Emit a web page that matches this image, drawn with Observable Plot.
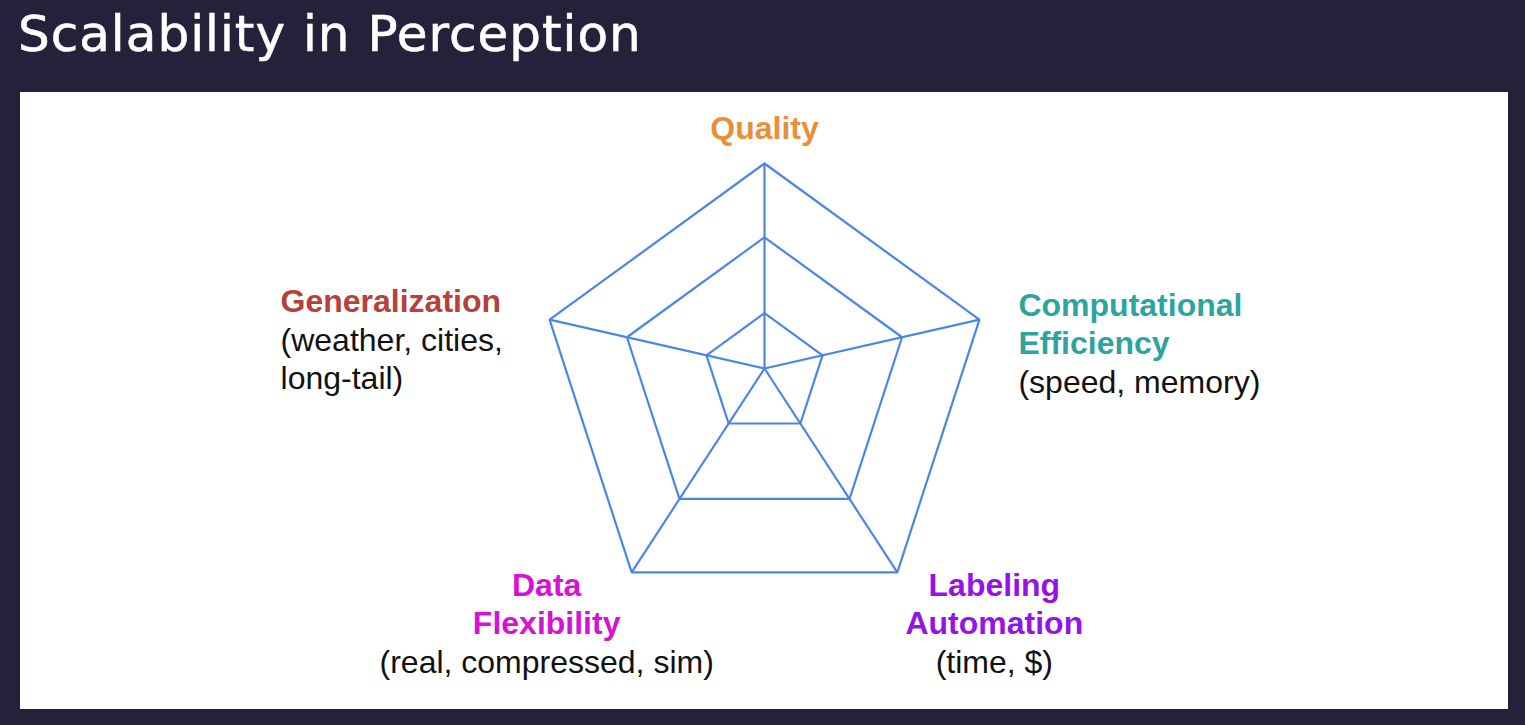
<!DOCTYPE html>
<html><head><meta charset="utf-8">
<script src="https://cdn.jsdelivr.net/npm/d3@7"></script>
<script src="https://cdn.jsdelivr.net/npm/@observablehq/plot@0.6"></script>
<style>
html,body{margin:0;padding:0;background:#24223b;width:1525px;height:725px;overflow:hidden}
#title{position:absolute;left:18px;top:4px;font-family:"DejaVu Sans",sans-serif;font-size:50px;line-height:60px;letter-spacing:1px;color:#fff;-webkit-text-stroke:0.6px #fff;white-space:nowrap}
#panel{position:absolute;left:20px;top:92px;width:1488px;height:617px;background:#fff}
#panel svg{display:block}
</style></head><body>
<div id="title">Scalability in Perception</div>
<div id="panel"></div>
<script>
// Axes of the radar (clockwise from top)
const axes = ["Quality", "Computational Efficiency", "Labeling Automation", "Data Flexibility", "Generalization"];
const headings = ["Quality", "Computational\nEfficiency", "Labeling\nAutomation", "Data\nFlexibility", "Generalization"];
const subtitles = ["", "(speed, memory)", "(time, $)", "(real, compressed, sim)", "(weather, cities,\nlong-tail)"];
const headingColors = ["#e69138", "#2ea49e", "#9414e6", "#d414d4", "#b5413c"];
// Ring levels as fractions of the outer pentagon (measured from the hub)
const levels = [0.27, 0.64, 1.0];
// Hub sits slightly above the outer pentagon's centre (in outer-radius units)
const hubOffset = 0.093;

// ---- layout (pixels) ----
const W = 1488, H = 617, PX = 226;       // pixels per unit radius
const CX = 744, CY = 297;                // outer pentagon centre inside the panel
const FS = 32;
const lineGap = 38.5;
const labelLayout = [
  {anchor: "middle", dx: 0, dy: -52},
  {anchor: "start", dx: 39, dy: -31},
  {anchor: "middle", dx: 97, dy: -4},
  {anchor: "middle", dx: -85, dy: -4},
  {anchor: "start", dx: -269, dy: -35}
];

const n = axes.length;
const hub = [0, hubOffset];
const outer = axes.map((a, k) => {
  const t = Math.PI / 2 - k * 2 * Math.PI / n;
  return [Math.cos(t), Math.sin(t)];
});
const ringPts = [];
levels.forEach((lv, li) => {
  for (let k = 0; k <= n; k++) {
    const o = outer[k % n];
    ringPts.push({ring: li, x: hub[0] + lv * (o[0] - hub[0]), y: hub[1] + lv * (o[1] - hub[1])});
  }
});
const spokes = axes.map((a, k) => ({x1: hub[0], y1: hub[1], x2: outer[k][0], y2: outer[k][1]}));

const labels = axes.map((a, k) => ({
  axis: a, heading: headings[k], sub: subtitles[k], color: headingColors[k],
  x: outer[k][0], y: outer[k][1], nh: headings[k].split("\n").length, ...labelLayout[k]
}));

const font = "'Liberation Sans', Arial, sans-serif";
const marks = [
  Plot.line(ringPts, {x: "x", y: "y", z: "ring", stroke: "#4a86e8", strokeWidth: 2.2, strokeLinejoin: "miter"}),
  Plot.link(spokes, {x1: "x1", y1: "y1", x2: "x2", y2: "y2", stroke: "#4a86e8", strokeWidth: 2.2})
];
for (const L of labels) {
  marks.push(Plot.text([L], {x: "x", y: "y", text: "heading", fill: L.color, textAnchor: L.anchor, lineAnchor: "top",
    dx: L.dx, dy: L.dy, fontSize: FS, fontWeight: "bold", fontFamily: font, lineHeight: lineGap / FS}));
  if (L.sub) marks.push(Plot.text([L], {x: "x", y: "y", text: "sub", fill: "#111", textAnchor: L.anchor, lineAnchor: "top",
    dx: L.dx, dy: L.dy + L.nh * lineGap, fontSize: FS, fontFamily: font, lineHeight: lineGap / FS}));
}

const chart = Plot.plot({
  width: W, height: H,
  margin: 0,
  x: {domain: [-CX / PX, (W - CX) / PX], axis: null},
  y: {domain: [-(H - CY) / PX, CY / PX], axis: null},
  style: {background: "#fff", overflow: "visible"},
  marks
});
document.getElementById("panel").appendChild(chart);
</script>
</body></html>
